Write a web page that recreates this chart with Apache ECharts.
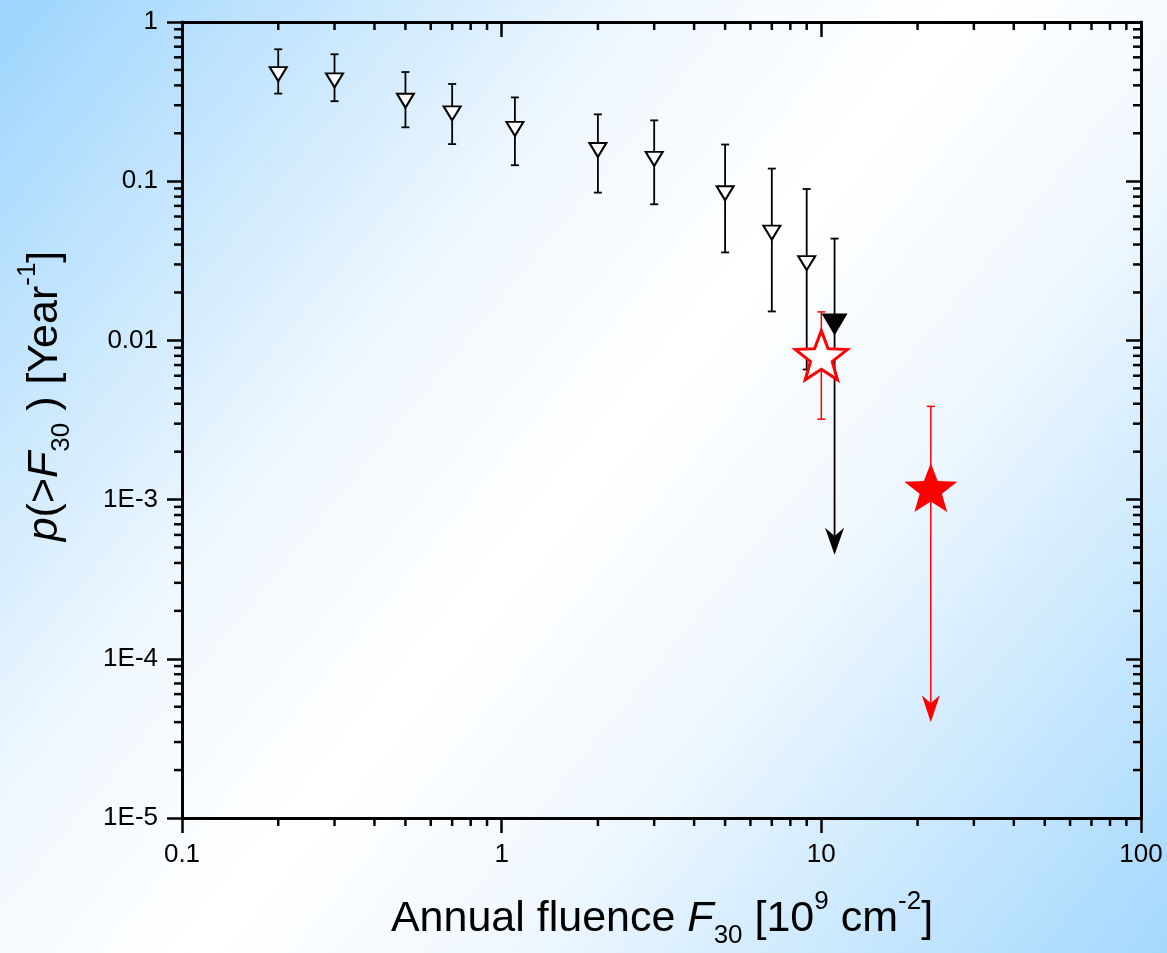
<!DOCTYPE html>
<html>
<head>
<meta charset="utf-8">
<script src="https://cdn.jsdelivr.net/npm/echarts@6/dist/echarts.min.js"></script>
<style>
  html, body { margin: 0; padding: 0; }
  #chart { width: 1167px; height: 953px; }
</style>
</head>
<body>
<div id="chart"></div>
<script type="text/javascript">
  // open triangles: fluence, p, lower / upper error
  var fluence = [0.2, 0.3, 0.5, 0.7, 1.1, 2, 3, 5, 7, 9];
  var prob = [0.47, 0.43, 0.32, 0.267, 0.213, 0.157, 0.138, 0.084, 0.0475, 0.0306];
  var probLow = [0.355, 0.318, 0.218, 0.171, 0.126, 0.0848, 0.0716, 0.0357, 0.0152, 0.00656];
  var probHigh = [0.674, 0.627, 0.485, 0.408, 0.336, 0.263, 0.241, 0.17, 0.12, 0.0893];

  // black upper limit (filled triangle + arrow)
  var limitX = [11];
  var limitY = [0.0126];
  var limitHigh = [0.0436];
  var limitTip = [4.5e-4];

  // red open star
  var openStarX = [10];
  var openStarY = [0.00806];
  var openStarLow = [0.0032];
  var openStarHigh = [0.0151];

  // red filled star (upper limit)
  var starX = [22];
  var starY = [1.19e-3];
  var starHigh = [3.85e-3];
  var starTip = [4.0e-5];

  // axes
  var xMin = 0.1, xMax = 100;
  var yMin = 1e-5, yMax = 1;
  var xDecades = [0.1, 1, 10];
  var yDecades = [1e-5, 1e-4, 1e-3, 0.01, 0.1];
  var minorSteps = [2, 3, 4, 5, 6, 7, 8, 9];

  var xMinor = [];
  xDecades.forEach(function (d) { minorSteps.forEach(function (m) { xMinor.push([m * d, yMin]); }); });
  var yMinor = [];
  yDecades.forEach(function (d) { minorSteps.forEach(function (m) { yMinor.push([xMin, m * d]); }); });

  function zip3(a, b, c) {
    return a.map(function (v, i) { return [v, b[i], c[i]]; });
  }
  function zip2(a, b) {
    return a.map(function (v, i) { return [v, b[i]]; });
  }

  var FONT = '"Liberation Sans", Arial, sans-serif';
  var STAR = 'path://M50,0 L62.34,33.01 L97.55,34.55 L69.97,56.49 L79.39,90.45 L50,71 L20.61,90.45 L30.03,56.49 L2.45,34.55 L37.66,33.01 Z';

  // vertical error bar with caps: data [x, low, high]
  function bars(color, width, cap) {
    return function (params, api) {
      var x = api.value(0);
      var lo = api.coord([x, api.value(1)]);
      var hi = api.coord([x, api.value(2)]);
      var st = { stroke: color, lineWidth: width };
      return { type: 'group', children: [
        { type: 'line', shape: { x1: lo[0], y1: lo[1], x2: hi[0], y2: hi[1] }, style: st },
        { type: 'line', shape: { x1: hi[0] - cap, y1: hi[1], x2: hi[0] + cap, y2: hi[1] }, style: st },
        { type: 'line', shape: { x1: lo[0] - cap, y1: lo[1], x2: lo[0] + cap, y2: lo[1] }, style: st }
      ]};
    };
  }

  // upper limit: cap on top, arrow head at tip. data [x, tip, high]
  function arrows(color, width, cap, w, h) {
    return function (params, api) {
      var x = api.value(0);
      var tip = api.coord([x, api.value(1)]);
      var hi = api.coord([x, api.value(2)]);
      var st = { stroke: color, lineWidth: width };
      return { type: 'group', children: [
        { type: 'line', shape: { x1: hi[0], y1: hi[1], x2: tip[0], y2: tip[1] - h * 0.6 }, style: st },
        { type: 'line', shape: { x1: hi[0] - cap, y1: hi[1], x2: hi[0] + cap, y2: hi[1] }, style: st },
        { type: 'polygon', shape: { points: [
            [tip[0], tip[1]], [tip[0] - w, tip[1] - h], [tip[0], tip[1] - h * 0.7], [tip[0] + w, tip[1] - h]
          ] }, style: { fill: color } }
      ]};
    };
  }

  function xMinorTicks(params, api) {
    var b = api.coord([api.value(0), yMin]);
    var t = api.coord([api.value(0), yMax]);
    var st = { stroke: '#000', lineWidth: 2.5 };
    return { type: 'group', children: [
      { type: 'line', shape: { x1: b[0], y1: b[1], x2: b[0], y2: b[1] + 8 }, style: st },
      { type: 'line', shape: { x1: t[0], y1: t[1], x2: t[0], y2: t[1] + 8 }, style: st }
    ]};
  }
  function yMinorTicks(params, api) {
    var l = api.coord([xMin, api.value(1)]);
    var r = api.coord([xMax, api.value(1)]);
    var st = { stroke: '#000', lineWidth: 2.5 };
    return { type: 'group', children: [
      { type: 'line', shape: { x1: l[0], y1: l[1], x2: l[0] - 8, y2: l[1] }, style: st },
      { type: 'line', shape: { x1: r[0], y1: r[1], x2: r[0] - 8, y2: r[1] }, style: st }
    ]};
  }

  function yLabel(v) {
    if (v >= 0.01) return String(+v.toPrecision(3));
    return '1E' + Math.round(Math.log10(v));
  }
  function xLabel(v) {
    return String(+v.toPrecision(3));
  }

  function logAxis(pos, min, max, showLabel, inside, fmt) {
    return {
      type: 'log', logBase: 10, min: min, max: max, position: pos,
      axisLine: { show: true, onZero: false, lineStyle: { color: '#000', width: 3 } },
      axisTick: { show: true, inside: inside, length: 15, lineStyle: { color: '#000', width: 2.5 } },
      axisLabel: { show: showLabel, color: '#000', fontSize: 26, fontFamily: FONT, margin: 24, formatter: fmt },
      splitLine: { show: false },
      minorTick: { show: false }
    };
  }

  var titleRich = {
    i: { fontStyle: 'italic', fontSize: 43, fontFamily: FONT, lineHeight: 60 },
    sub: { fontSize: 26, fontFamily: FONT, verticalAlign: 'bottom', lineHeight: 24 },
    sup: { fontSize: 26, fontFamily: FONT, verticalAlign: 'top', lineHeight: 26 }
  };

  var chart = echarts.init(document.getElementById('chart'));

  var option = {
    animation: false,
    backgroundColor: {
      type: 'linear', x: 0, y: 0, x2: 1, y2: 1,
      colorStops: [
        { offset: 0, color: '#9bd4fd' },
        { offset: 0.33, color: '#eef7fe' },
        { offset: 0.5, color: '#ffffff' },
        { offset: 0.67, color: '#eef7fe' },
        { offset: 1, color: '#a3d8fd' }
      ]
    },
    grid: { left: 182, right: 26, top: 22, bottom: 135, containLabel: false, outerBoundsMode: 'none' },
    xAxis: [
      logAxis('bottom', xMin, xMax, true, false, xLabel),
      logAxis('top', xMin, xMax, false, true, xLabel)
    ],
    yAxis: [
      logAxis('left', yMin, yMax, true, false, yLabel),
      logAxis('right', yMin, yMax, false, true, yLabel)
    ],
    graphic: [
      {
        type: 'text', x: 662, y: 919,
        style: {
          text: 'Annual fluence {i|F}{sub|30} [10{sup|9} cm{sup|-2}]',
          font: '43px ' + FONT, fill: '#000', align: 'center', verticalAlign: 'middle',
          lineHeight: 60, rich: titleRich
        }
      },
      {
        type: 'text', x: 45, y: 396, rotation: Math.PI / 2,
        style: {
          text: '{i|p}(>{i|F}{sub|30} ) [Year{sup|-1}]',
          font: '43px ' + FONT, fill: '#000', align: 'center', verticalAlign: 'middle',
          lineHeight: 60, rich: titleRich
        }
      }
    ],
    series: [
      { type: 'custom', name: 'xminor', data: xMinor, renderItem: xMinorTicks, clip: false, silent: true },
      { type: 'custom', name: 'yminor', data: yMinor, renderItem: yMinorTicks, clip: false, silent: true },
      // red open star
      { type: 'custom', name: 'openStarErr', data: zip3(openStarX, openStarLow, openStarHigh),
        renderItem: bars('#ff0000', 1.5, 4), silent: true },
      { type: 'scatter', name: 'openStar', data: zip2(openStarX, openStarY), symbol: STAR,
        symbolSize: [52, 49], itemStyle: { color: '#ffffff', borderColor: '#ff0000', borderWidth: 3, opacity: 1 }, silent: true },
      // red filled star with arrow
      { type: 'custom', name: 'starArrow', data: zip3(starX, starTip, starHigh),
        renderItem: arrows('#ff0000', 1.5, 4, 9, 27), silent: true },
      { type: 'scatter', name: 'star', data: zip2(starX, starY), symbol: STAR,
        symbolSize: [53, 49], itemStyle: { color: '#ff0000', opacity: 1 }, silent: true },
      // open triangles
      { type: 'custom', name: 'err', data: zip3(fluence, probLow, probHigh),
        renderItem: bars('#000', 1.8, 4), silent: true },
      { type: 'scatter', name: 'p', data: zip2(fluence, prob), symbol: 'triangle', symbolRotate: 180,
        symbolSize: [17, 14], itemStyle: { color: '#ffffff', borderColor: '#000', borderWidth: 2, opacity: 1 }, silent: true },
      // black upper limit
      { type: 'custom', name: 'limitArrow', data: zip3(limitX, limitTip, limitHigh),
        renderItem: arrows('#000', 1.8, 4, 9.5, 27), silent: true },
      { type: 'scatter', name: 'limit', data: zip2(limitX, limitY), symbol: 'triangle', symbolRotate: 180,
        symbolSize: [26, 22], itemStyle: { color: '#000', opacity: 1 }, silent: true }
    ]
  };

  chart.setOption(option);
</script>
</body>
</html>
